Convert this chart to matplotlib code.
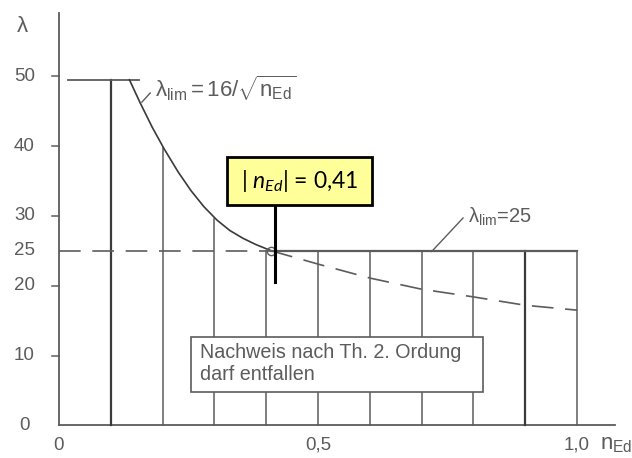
import matplotlib
matplotlib.use('Agg')
import matplotlib.pyplot as plt
from matplotlib.patches import Rectangle

plt.rcParams['font.family'] = ['Liberation Sans', 'DejaVu Sans']
plt.rcParams['mathtext.fontset'] = 'custom'
plt.rcParams['mathtext.rm'] = 'Liberation Sans'
plt.rcParams['mathtext.it'] = 'Lato:italic'

# vertical grid lines of the diagram and where they end at the top
grid_n = [0.1, 0.2, 0.3, 0.4, 0.5, 0.6, 0.7, 0.8, 0.9, 1.0]
grid_top = [49.5, 39.8, 29.6, 25.0, 25.0, 25.0, 25.0, 25.0, 25.0, 25.0]

# lambda_lim = 16/sqrt(n_Ed), solid part
curve_n = [0.136, 0.156, 0.180, 0.203, 0.230, 0.255, 0.280, 0.305, 0.330, 0.355, 0.380, 0.410]
curve_lam = [49.5, 46.3, 42.7, 39.6, 36.3, 33.6, 31.3, 29.4, 27.9, 26.8, 25.9, 25.0]

# dashed continuation below lambda_lim = 25
dash_n = [0.410, 0.5, 0.6, 0.7, 0.8, 0.9, 1.0]
dash_lam = [25.0, 23.1, 21.1, 19.5, 18.4, 17.2, 16.5]

ytick_vals = [0, 10, 20, 25, 30, 40, 50]
ytick_marks = [10, 20, 30, 40, 50]
xtick_vals = [0.0, 0.5, 1.0]
xtick_labels = ['0', '0,5', '1,0']

n_ed = 0.41
lam_lim = 25
lam_top = 49.5

gray = '#5c5c5c'
dark = '#3a3a3a'

fig = plt.figure(figsize=(6.32, 4.58), dpi=100)
ax = fig.add_axes([0, 0, 1, 1])
ax.set_xlim(-0.1139, 1.1062)
ax.set_ylim(-4.68, 60.93)
ax.axis('off')

# axes of the diagram
ax.plot([0, 0], [0, 59.1], color=gray, lw=1.3)
ax.plot([0, 1.073], [0, 0], color=gray, lw=1.3)
for v in ytick_marks:
    ax.plot([-0.0135, 0], [v, v], color=gray, lw=1.1)
for v in ytick_vals:
    ax.text(-0.067, v, str(v), ha='center', va='center', fontsize=13.5, color=gray)
for v, lab in zip(xtick_vals, xtick_labels):
    ax.text(v, -3.5, lab, ha='center', va='baseline', fontsize=13.5, color=gray)
ax.text(1.044, -3.5, r'$\mathrm{n_{Ed}}$', ha='left', va='baseline', fontsize=16, color=gray)
ax.text(-0.07, 57.1, r'$\mathrm{\lambda}$', ha='center', va='center', fontsize=16, color=gray)

# grid lines
for n, top in zip(grid_n, grid_top):
    heavy = n in (0.1, 0.9)
    ax.plot([n, n], [0, top], color=dark if heavy else gray, lw=1.6 if heavy else 1.1)

# limits
ax.plot([0.017, 0.154], [lam_top, lam_top], color=gray, lw=1.3)
ax.plot(curve_n, curve_lam, color=dark, lw=1.2)
ax.plot([0, n_ed], [lam_lim, lam_lim], color=gray, lw=1.2, dashes=(13, 7))
ax.plot([n_ed, 1.0], [lam_lim, lam_lim], color=gray, lw=1.6)
ax.plot(dash_n, dash_lam, color=gray, lw=1.2, dashes=(13, 7))
ax.plot([n_ed], [lam_lim], 'o', ms=6, mfc='none', mec=gray, mew=1.0)

# labels with leader lines
ax.plot([0.160, 0.176], [46.3, 47.6], color=gray, lw=1.0)
ax.text(0.185, 47.0, r'$\mathrm{\lambda_{lim} = 16/\sqrt{n_{Ed}}}$', ha='left', va='baseline',
        fontsize=16, color=gray)
ax.plot([0.7195, 0.780], [24.9, 29.7], color=gray, lw=1.0)
ax.text(0.79, 29.0, r'$\mathrm{\lambda_{lim}}$=25', ha='left', va='baseline', fontsize=14.5, color=gray)

# text box
ax.add_patch(Rectangle((0.255, 4.77), 0.564, 7.88, facecolor='white', edgecolor=gray, lw=1.2, zorder=3))
ax.text(0.272, 8.9, 'Nachweis nach Th. 2. Ordung\ndarf entfallen', ha='left', va='center',
        fontsize=14.2, color=gray, linespacing=1.2, zorder=4)

# marked value n_Ed = 0,41
ax.plot([0.417, 0.417], [20.5, 31.6], color='black', lw=2.2, zorder=5)
ax.add_patch(Rectangle((0.324, 31.6), 0.28, 6.8, facecolor='#ffff99', edgecolor='black', lw=2.0, zorder=5))
ax.text(0.464, 35.0, '| $n_{Ed}$| = 0,41', ha='center', va='center', fontsize=16.5, color='black',
        family=['Lato', 'DejaVu Sans'], zorder=6)

fig.savefig('out.png', dpi=100)
